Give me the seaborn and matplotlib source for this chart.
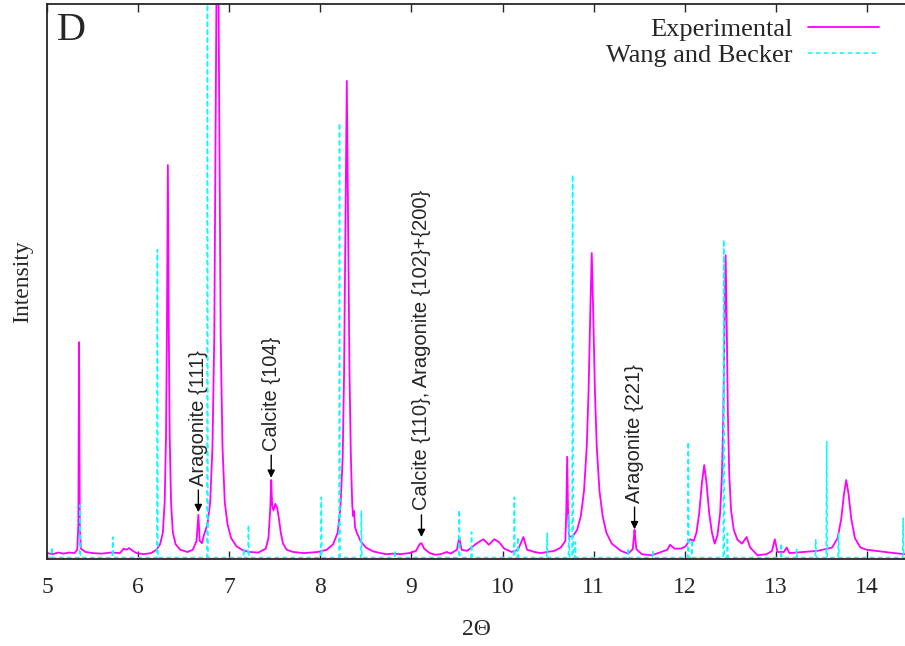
import numpy as np
import pandas as pd
import matplotlib.pyplot as plt
import seaborn as sns

# measured pattern (2-theta, intensity in arbitrary units, 1000 = top of frame)
exp_x = [5.00, 5.06, 5.12, 5.18, 5.24, 5.30, 5.33, 5.342, 5.35, 5.358, 5.37, 5.42,
         5.50, 5.60, 5.70, 5.80, 5.84, 5.87, 5.90, 5.94, 5.98, 6.06, 6.14,
         6.20, 6.24, 6.27, 6.29, 6.305, 6.315, 6.325, 6.335, 6.345, 6.36, 6.38,
         6.41, 6.46, 6.54, 6.60, 6.64, 6.66, 6.675, 6.70,
         6.72, 6.76, 6.79, 6.815, 6.835, 6.85, 6.87, 6.89, 6.905, 6.925, 6.95,
         6.98, 7.02, 7.08, 7.15, 7.22, 7.32,
         7.40, 7.43, 7.45, 7.46, 7.47, 7.485, 7.505, 7.525, 7.545, 7.565, 7.59,
         7.63, 7.70, 7.82, 7.97,
         8.07, 8.14, 8.19, 8.22, 8.245, 8.26, 8.275, 8.29, 8.305, 8.32, 8.335,
         8.35, 8.36, 8.37, 8.38, 8.40, 8.44, 8.50, 8.58,
         8.66, 8.72, 8.80, 8.87, 8.98, 9.05, 9.09, 9.11, 9.14, 9.20, 9.26, 9.32,
         9.39, 9.43, 9.50, 9.525, 9.55, 9.61, 9.66, 9.72, 9.79, 9.85, 9.91, 9.96,
         10.02, 10.10, 10.17, 10.23, 10.27, 10.35, 10.42, 10.49, 10.57, 10.64,
         10.69, 10.70, 10.71, 10.72, 10.73,
         10.77, 10.82, 10.86, 10.895, 10.925, 10.945, 10.965, 10.98, 10.995,
         11.015, 11.035, 11.065, 11.10, 11.14, 11.20, 11.30, 11.38,
         11.43, 11.445, 11.45, 11.455, 11.47, 11.53, 11.64, 11.74, 11.81, 11.84,
         11.89, 11.96, 12.01, 12.06,
         12.10, 12.13, 12.16, 12.19, 12.215, 12.24, 12.27, 12.30, 12.33,
         12.36, 12.39, 12.41, 12.425, 12.44, 12.45, 12.46, 12.475, 12.49, 12.51,
         12.54, 12.58, 12.63, 12.68, 12.72, 12.80, 12.90, 12.96, 12.99,
         13.02, 13.09, 13.12, 13.15, 13.30, 13.46,
         13.62, 13.68, 13.72, 13.75, 13.775, 13.80, 13.83, 13.87, 13.93,
         14.00, 14.10, 14.20, 14.30, 14.42]
exp_y = [8, 6, 9, 7, 9, 8, 14, 60, 389, 60, 16, 10,
         8, 7, 9, 8, 16, 14, 17, 12, 8, 6, 8,
         14, 24, 45, 100, 220, 420, 709, 420, 220, 100, 45,
         24, 14, 10, 14, 30, 77, 30, 26,
         40, 60, 100, 200, 400, 800, 1300, 800, 400, 200, 100,
         60, 35, 20, 13, 10, 9,
         16, 35, 90, 140, 95, 85, 97, 90, 70, 45, 25,
         14, 10, 8, 10,
         14, 24, 45, 90, 180, 330, 600, 861, 600, 330, 180,
         95, 75, 84, 55, 45, 30, 18, 11,
         8, 6, 7, 6, 8, 12, 24, 26, 16, 8, 5, 6,
         10, 7, 14, 37, 14, 12, 18, 26, 33, 23, 33, 28,
         16, 10, 14, 37, 14, 10, 8, 10, 12, 18,
         30, 80, 182, 80, 38,
         38, 50, 75, 120, 200, 300, 450, 550, 450,
         300, 200, 120, 75, 45, 25, 12, 7,
         15, 40, 50, 40, 15, 6, 4, 10, 14, 23,
         16, 16, 20, 33,
         30, 45, 80, 135, 167, 135, 80, 45, 25,
         40, 80, 150, 260, 450, 546, 450, 260, 150, 85,
         50, 32, 25, 37, 18, 4, 6, 12, 33,
         10, 10, 18, 8, 10, 12,
         18, 35, 70, 115, 140, 115, 70, 35, 18,
         14, 12, 10, 8, 6]

# simulated reflections (Wang and Becker)
wb_pos = [5.05, 5.36, 5.72, 6.21, 6.76, 7.16, 7.21, 8.01, 8.21, 8.45, 8.82,
          9.525, 9.66, 10.13, 10.17, 10.49, 10.73, 10.77, 10.80, 11.38, 11.65,
          12.04, 12.08, 12.43, 12.47, 13.06, 13.23, 13.44, 13.56, 13.69, 14.40]
wb_hgt = [19, 95, 37, 556, 1100, 17, 59, 109, 785, 84, 13,
          86, 46, 109, 37, 44, 77, 691, 28, 17, 13,
          209, 32, 574, 44, 26, 15, 32, 209, 44, 71]

peak_labels = ['Aragonite {111}', 'Calcite {104}',
               'Calcite {110}, Aragonite {102}+{200}', 'Aragonite {221}']
peak_x = [6.66, 7.46, 9.11, 11.45]
arrow_tail = [122, 185, 77, 91]
arrow_head = [82, 144, 37, 51]

w = 0.006
wx, wy = [5.0], [0.0]
for p, h in zip(wb_pos, wb_hgt):
    wx += [p - w, p, p + w]
    wy += [0, h, 0]
wx.append(14.42)
wy.append(0)

exp_df = pd.DataFrame({'theta': exp_x, 'I': exp_y})
wb_df = pd.DataFrame({'theta': wx, 'I': wy})

sns.set_style('ticks')
plt.rcParams['font.family'] = ['Liberation Serif', 'DejaVu Serif']

fig = plt.figure(figsize=(9.05, 6.46), dpi=100)
ax = fig.add_axes([47.2 / 905, 1 - 559 / 646, 1 - 47.2 / 905, 555 / 646])

sns.lineplot(data=exp_df, x='theta', y='I', ax=ax, color='#ff00ff', lw=1.3,
             sort=False, estimator=None, label='Experimental')
sns.lineplot(data=wb_df, x='theta', y='I', ax=ax, color='#00ffff', lw=1.1,
             sort=False, estimator=None, label='Wang and Becker',
             linestyle=(0, (3, 2.2)))

ax.set_xlim(5, 14.42)
ax.set_ylim(-2.7, 1000)
ax.set_xticks(range(5, 15))
ax.set_yticks([])
ax.tick_params(axis='x', direction='in', top=True, length=6, width=1,
               labelsize=17, pad=13)
for s in ['left', 'bottom', 'top']:
    ax.spines[s].set_linewidth(1.3)
ax.spines['right'].set_visible(False)
ax.set_xlabel('2\u0398', fontsize=17, labelpad=15)
ax.set_ylabel('Intensity', fontsize=17, labelpad=10)

for lab, x, t, h in zip(peak_labels, peak_x, arrow_tail, arrow_head):
    ax.annotate('', xy=(x, h), xytext=(x, t),
                arrowprops=dict(arrowstyle='-|>', color='black', lw=1,
                                mutation_scale=11, shrinkA=0, shrinkB=0))
    ax.text(x, t + 8, lab, rotation=90, ha='center', va='bottom',
            fontsize=14.5, family=['Liberation Sans', 'DejaVu Sans'])

ax.text(0.0114, 0.935, 'D', transform=ax.transAxes, fontsize=29,
        va='baseline', ha='left')

ax.legend(loc='upper right', bbox_to_anchor=(879 / 905, 1 - 18 / 646),
          bbox_transform=fig.transFigure, frameon=False, markerfirst=False,
          fontsize=19, handlelength=2.7, handletextpad=0.57,
          labelspacing=0.08, borderpad=0, borderaxespad=0)

fig.savefig('out.png', dpi=100)
